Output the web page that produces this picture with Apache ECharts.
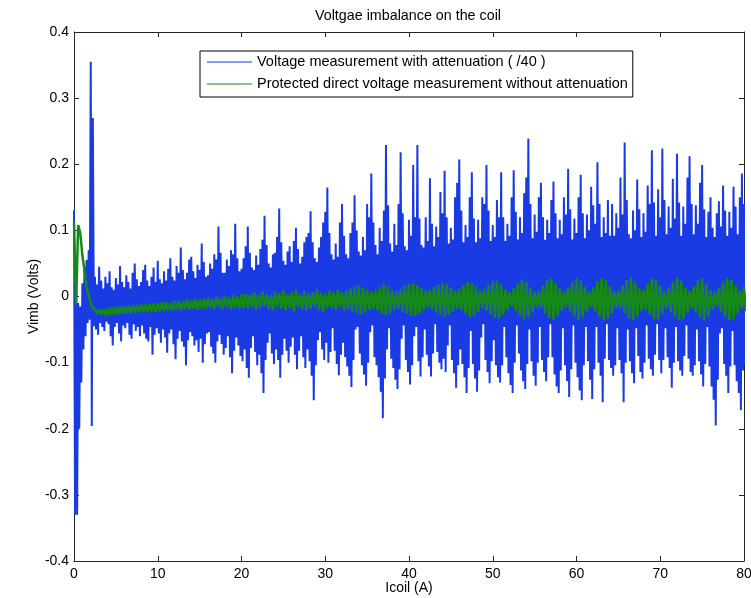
<!DOCTYPE html>
<html>
<head>
<meta charset="utf-8">
<script src="https://cdn.jsdelivr.net/npm/echarts@6/dist/echarts.min.js"></script>
<style>
  html, body { margin: 0; padding: 0; background: #fff; }
  #chart { width: 751px; height: 598px; }
</style>
</head>
<body>
<div id="chart"></div>
<script>
// Coil current sample grids (A)
const blueStepA = 0.25;   // envelope column width for the attenuated channel
const greenStepA = 0.5;   // envelope column width for the direct channel

// Attenuated channel (/40): per-column upper / lower envelope, in mV
const blueHighMv = [
  130,60,-10,-15,20,45,55,70,
  355,270,30,18,45,24,12,30,
  20,38,14,10,28,18,46,22,
  14,32,22,12,36,50,26,16,
  22,40,48,24,16,30,44,22,
  54,26,20,38,24,42,58,30,
  24,46,36,74,40,26,36,56,
  60,38,28,48,40,80,52,30,
  32,50,42,64,56,106,66,36,
  36,56,46,70,64,110,58,38,
  42,58,76,106,66,44,40,62,
  48,72,86,122,78,50,44,64,
  66,90,133,82,54,48,68,76,
  52,84,104,72,50,60,82,90,
  96,129,82,58,52,74,90,112,
  128,165,96,64,56,80,60,112,
  140,92,64,58,96,112,153,100,
  68,62,90,70,140,120,186,112,
  78,64,104,84,130,229,138,80,
  68,110,78,140,218,126,76,70,
  116,92,199,120,229,118,78,74,
  120,84,179,110,76,106,90,158,
  126,190,120,80,104,86,150,172,
  207,130,82,108,90,150,188,118,
  82,116,88,150,140,199,130,84,
  108,90,146,120,188,120,84,110,
  92,150,191,128,86,120,96,156,
  180,239,140,88,124,98,150,172,
  120,86,116,96,146,174,126,88,
  116,94,150,124,193,132,86,118,
  96,150,184,126,88,124,100,166,
  138,110,203,140,90,120,96,146,
  92,140,92,126,104,180,124,233,
  146,94,88,130,100,177,132,90,
  126,98,168,140,221,142,92,162,
  120,224,146,94,136,104,178,118,
  216,142,92,136,110,180,212,140,
  94,138,110,172,199,132,90,128,
  150,104,90,126,144,106,168,130,
  92,128,104,166,136,94,150,186,
  140
];
const blueLowMv = [
  -330,-330,-200,-130,-80,-60,-40,-35,
  -196,-45,-50,-58,-40,-46,-52,-38,
  -42,-60,-74,-46,-40,-56,-68,-44,
  -48,-40,-58,-64,-42,-52,-46,-60,
  -44,-56,-64,-68,-46,-88,-58,-48,
  -56,-70,-50,-62,-85,-56,-50,-72,
  -95,-64,-52,-68,-76,-104,-66,-54,
  -60,-74,-66,-84,-64,-100,-72,-56,
  -54,-76,-86,-100,-68,-58,-72,-88,
  -78,-60,-92,-116,-82,-62,-74,-90,
  -98,-80,-108,-123,-78,-60,-84,-104,
  -88,-116,-146,-96,-70,-56,-86,-102,
  -80,-96,-123,-88,-64,-82,-100,-76,
  -62,-88,-110,-82,-60,-92,-108,-80,
  -98,-120,-157,-104,-66,-54,-80,-96,
  -70,-100,-84,-48,-82,-102,-119,-88,
  -70,-92,-106,-120,-137,-96,-50,-46,
  -86,-104,-118,-135,-100,-54,-44,-92,
  -104,-122,-144,-184,-124,-80,-48,-94,
  -108,-126,-140,-110,-64,-44,-96,-114,
  -133,-104,-60,-46,-98,-121,-92,-50,
  -88,-106,-121,-86,-42,-84,-100,-110,
  -94,-114,-74,-44,-96,-116,-138,-104,
  -80,-102,-122,-146,-108,-52,-102,-124,
  -144,-112,-62,-42,-96,-114,-131,-98,
  -66,-104,-122,-130,-104,-46,-92,-116,
  -134,-146,-100,-44,-86,-112,-128,-140,
  -102,-50,-98,-120,-135,-100,-46,-96,
  -114,-128,-92,-42,-92,-118,-136,-146,
  -112,-48,-104,-128,-152,-110,-44,-100,
  -122,-142,-157,-104,-46,-98,-126,-155,
  -110,-46,-100,-120,-160,-94,-42,-96,
  -108,-120,-104,-48,-96,-116,-160,-100,
  -50,-98,-116,-131,-48,-90,-114,-124,
  -100,-44,-94,-110,-120,-88,-42,-96,
  -116,-96,-48,-92,-108,-138,-100,-46,
  -98,-112,-120,-90,-44,-94,-114,-120,
  -104,-50,-98,-118,-136,-102,-46,-106,
  -136,-156,-195,-126,-56,-48,-102,-120,
  -146,-106,-52,-104,-128,-146,-172,-112,
  -104
];

// Protected direct channel: per-column upper / lower envelope, in mV
const greenHighMv = [
  112,108,62,14,-10,-18,-20,-19,-18,-17,-16,
  -15,-14,-14,-13,-13,-12,-12,-11,-11,-10,
  -9,-8,-9,-7,-6,-7,-5,-6,-4,-5,
  -3,-2,-4,0,-2,1,-1,2,0,3,
  4,2,6,3,8,4,2,7,5,9,3,6,10,4,8,5,7,11,6,4,
  8,6,10,7,9,12,15,17,14,10,7,9,14,18,15,10,8,11,16,19,
  20,17,12,8,10,14,18,21,19,14,9,11,17,22,20,15,10,12,18,23,
  24,18,10,6,12,20,26,22,14,7,8,16,24,27,20,12,7,13,22,28,
  24,15,8,14,22,28,25,16,8,9,17,25,29,21,12,10,19,27,26,16,
  9,14,22,28,24,14,8,15,24,27,19,10,7,13,21,28,25,16,9,14
];
const greenLowMv = [
  -12,96,40,2,-18,-26,-28,-28,-28,-27,-27,
  -26,-25,-26,-24,-25,-23,-24,-22,-23,-22,
  -22,-21,-22,-20,-21,-19,-20,-18,-20,-18,
  -18,-17,-19,-16,-18,-17,-19,-16,-18,-17,
  -18,-16,-20,-17,-15,-19,-21,-16,-18,-20,-17,-22,-16,-19,-21,-18,-16,-20,-22,-17,
  -17,-20,-16,-21,-19,-22,-25,-27,-24,-20,-18,-21,-26,-28,-25,-20,-18,-22,-26,-29,
  -29,-26,-21,-17,-19,-24,-28,-30,-28,-23,-18,-20,-26,-31,-29,-24,-18,-21,-27,-32,
  -33,-28,-20,-15,-22,-29,-34,-31,-24,-16,-17,-25,-32,-35,-29,-21,-16,-22,-30,-35,
  -31,-23,-16,-22,-30,-36,-33,-25,-17,-18,-26,-33,-36,-30,-21,-19,-27,-34,-35,-26,
  -18,-24,-31,-36,-33,-24,-17,-24,-32,-36,-30,-20,-16,-23,-30,-36,-34,-25,-18,-22
];

// Axis ticks
const xTicks = [0, 10, 20, 30, 40, 50, 60, 70, 80];
const yTicks = [-0.4, -0.3, -0.2, -0.1, 0, 0.1, 0.2, 0.3, 0.4];

// Turn envelope columns into an alternating high/low trace (mV -> V)
function envelopeTrace(high, low, step) {
  const pts = [];
  for (let i = 0; i < high.length; i++) {
    pts.push([i * step, high[i] / 1000]);
    pts.push([i * step + step / 2, low[i] / 1000]);
  }
  return pts;
}

const FONT = "'Liberation Sans', Arial, Helvetica, sans-serif";
const BLUE = '#1a3be4';
const GREEN = '#17891a';
const chart = echarts.init(document.getElementById('chart'), null, { renderer: 'canvas' });

// Boxed axes: lines stay on the plot edges, ticks point inward
const axisLine = { show: true, onZero: false, lineStyle: { color: '#262626', width: 1 } };
const tickIn = { show: true, inside: true, length: 5, lineStyle: { color: '#262626', width: 1 } };
const xMin = xTicks[0], xMax = xTicks[xTicks.length - 1];
const yMin = yTicks[0], yMax = yTicks[yTicks.length - 1];

chart.setOption({
  animation: false,
  backgroundColor: '#fff',
  title: {
    text: 'Voltgae imbalance on the coil',
    left: 310, top: 4,
    textStyle: { fontFamily: FONT, fontSize: 14.3, fontWeight: 'normal', color: '#000' }
  },
  legend: {
    orient: 'vertical',
    left: 200, top: 51,
    padding: [3, 5, 5, 7],
    itemGap: 6,
    itemWidth: 45,
    itemHeight: 1,
    icon: 'rect',
    borderColor: '#000',
    borderWidth: 1,
    borderRadius: 0,
    backgroundColor: '#fff',
    textStyle: { fontFamily: FONT, fontSize: 14.5, lineHeight: 16, color: '#000' },
    data: [
      'Voltage measurement with attenuation ( /40 )',
      'Protected direct voltage measurement without attenuation'
    ]
  },
  grid: { left: 74, right: 7, top: 32, bottom: 37, containLabel: false, outerBoundsMode: 'none' },
  xAxis: [
    {
      type: 'value', min: xMin, max: xMax, interval: 10,
      name: 'Icoil (A)', nameLocation: 'middle', nameGap: 20, nameMoveOverlap: false,
      nameTextStyle: { fontFamily: FONT, fontSize: 14, color: '#000' },
      axisLine, axisTick: tickIn, splitLine: { show: false },
      axisLabel: { fontFamily: FONT, fontSize: 14, color: '#000', margin: 6 }
    },
    {
      type: 'value', min: xMin, max: xMax, interval: 10, position: 'top',
      axisLine, axisTick: tickIn, splitLine: { show: false },
      axisLabel: { show: false }
    }
  ],
  yAxis: [
    {
      type: 'value', min: yMin, max: yMax, interval: 0.1,
      name: 'Vimb (Volts)', nameLocation: 'middle', nameGap: 33, nameRotate: 90, nameMoveOverlap: false,
      nameTextStyle: { fontFamily: FONT, fontSize: 14, color: '#000' },
      axisLine, axisTick: tickIn, splitLine: { show: false },
      axisLabel: {
        fontFamily: FONT, fontSize: 14, color: '#000', margin: 5,
        formatter: v => (Math.abs(v) < 1e-9 ? '0' : v.toFixed(1))
      }
    },
    {
      type: 'value', min: yMin, max: yMax, interval: 0.1, position: 'right',
      axisLine, axisTick: tickIn, splitLine: { show: false },
      axisLabel: { show: false }
    }
  ],
  series: [
    {
      name: 'Voltage measurement with attenuation ( /40 )',
      type: 'line',
      data: envelopeTrace(blueHighMv, blueLowMv, blueStepA),
      symbol: 'none', showSymbol: false,
      clip: true,
      color: BLUE,
      lineStyle: { color: BLUE, width: 2, join: 'bevel' },
      z: 2
    },
    {
      name: 'Protected direct voltage measurement without attenuation',
      type: 'line',
      data: envelopeTrace(greenHighMv, greenLowMv, greenStepA),
      symbol: 'none', showSymbol: false,
      clip: true,
      color: GREEN,
      lineStyle: { color: GREEN, width: 2.5, join: 'bevel' },
      z: 3
    }
  ]
});
</script>
</body>
</html>
